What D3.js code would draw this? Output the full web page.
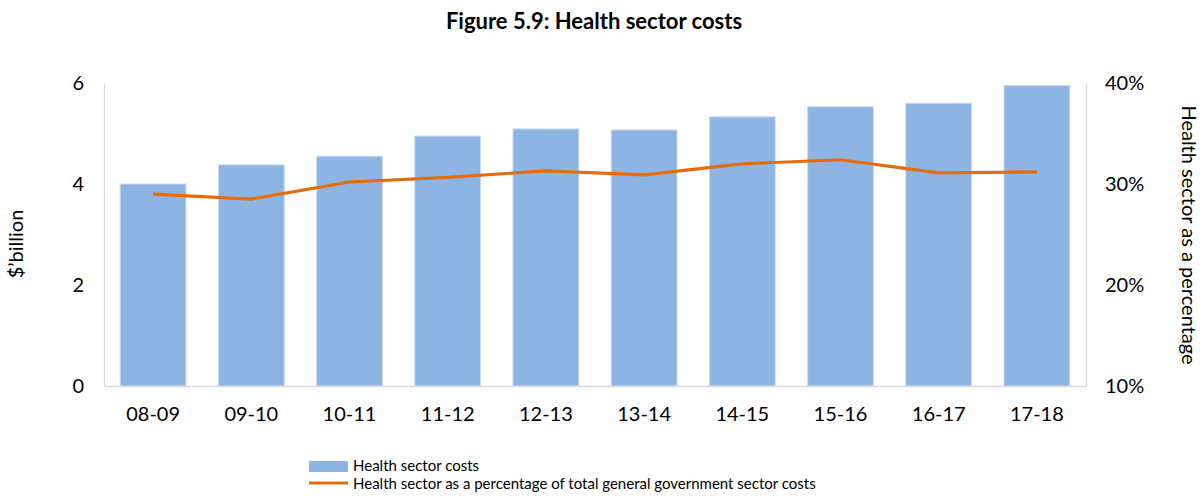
<!DOCTYPE html>
<html>
<head>
<meta charset="utf-8">
<script src="https://cdn.jsdelivr.net/npm/d3@7"></script>
<style>
  html, body { margin: 0; padding: 0; background: #fff; }
  svg { display: block; font-family: Lato, "Open Sans", sans-serif; }
</style>
</head>
<body>
<svg id="chart" width="1204" height="504"></svg>
<script>
// Financial years
const years = ["08-09", "09-10", "10-11", "11-12", "12-13", "13-14", "14-15", "15-16", "16-17", "17-18"];
// Health sector costs, $ billion
const costs = [4.00, 4.38, 4.55, 4.95, 5.09, 5.07, 5.33, 5.53, 5.60, 5.95];
// Health sector as a percentage of total general government sector costs
const shares = [29.0, 28.5, 30.2, 30.65, 31.3, 30.9, 32.0, 32.4, 31.1, 31.2];
// Axis ticks
const leftTicks = [0, 2, 4, 6];
const rightTicks = [10, 20, 30, 40];

const svg = d3.select("#chart");
const m = { left: 104, right: 1086, top: 83, bottom: 386 };

const x = d3.scaleBand().domain(years).range([m.left, m.right]).paddingInner(0.33).paddingOuter(0.165);
const yL = d3.scaleLinear().domain([0, 6]).range([m.bottom, m.top]);
const yR = d3.scaleLinear().domain([10, 40]).range([m.bottom, m.top]);

const barColor = "#8eb4e3";
const lineColor = "#e46c0a";
const axisColor = "#d9d9d9";
const textColor = "#000";
const axisFont = 20;

// Title
svg.append("text")
  .attr("x", 594).attr("y", 29)
  .attr("text-anchor", "middle")
  .attr("font-size", 22).attr("font-weight", "bold")
  .attr("fill", textColor)
  .text("Figure 5.9: Health sector costs");

// Bars
svg.append("g").selectAll("rect")
  .data(years)
  .join("rect")
  .attr("x", d => x(d))
  .attr("width", x.bandwidth())
  .attr("y", (d, i) => yL(costs[i]))
  .attr("height", (d, i) => yL(0) - yL(costs[i]))
  .attr("fill", barColor)
  .attr("stroke", "#c9daf1")
  .attr("stroke-width", 1);

// Axes (lines only, no tick marks)
const leftAxis = d3.axisLeft(yL).tickValues(leftTicks).tickSize(0).tickPadding(20).tickFormat(d3.format("d"));
const rightAxis = d3.axisRight(yR).tickValues(rightTicks).tickSize(0).tickPadding(19).tickFormat(d => d + "%");
const bottomAxis = d3.axisBottom(x).tickSize(0).tickPadding(21);

function styleAxis(g) {
  g.select(".domain").attr("stroke", axisColor).attr("stroke-width", 1.3);
  g.selectAll("text").attr("font-size", axisFont).attr("font-family", "Lato, 'Open Sans', sans-serif").attr("fill", textColor);
}

svg.append("g").attr("transform", `translate(${m.left},0)`).call(leftAxis).call(styleAxis);
svg.append("g").attr("transform", `translate(${m.right},0)`).call(rightAxis).call(styleAxis);
svg.append("g").attr("transform", `translate(0,${m.bottom})`).call(bottomAxis).call(styleAxis);

// Percentage line
const line = d3.line()
  .x((d, i) => x(years[i]) + x.bandwidth() / 2)
  .y(d => yR(d));

svg.append("path")
  .datum(shares)
  .attr("d", line)
  .attr("fill", "none")
  .attr("stroke", lineColor)
  .attr("stroke-width", 3.2)
  .attr("stroke-linejoin", "round");

// Axis titles
svg.append("text")
  .attr("transform", "translate(23,244) rotate(-90)")
  .attr("text-anchor", "middle")
  .attr("font-size", axisFont)
  .attr("fill", textColor)
  .text("$’billion");

svg.append("text")
  .attr("transform", "translate(1182,235) rotate(90)")
  .attr("text-anchor", "middle")
  .attr("font-size", axisFont)
  .attr("fill", textColor)
  .text("Health sector as a percentage");

// Legend
const legend = svg.append("g").attr("transform", "translate(309,0)");
legend.append("rect")
  .attr("x", 0).attr("y", 461).attr("width", 39).attr("height", 11)
  .attr("fill", barColor);
legend.append("text")
  .attr("x", 44).attr("y", 471)
  .attr("font-size", 15).attr("fill", textColor)
  .text("Health sector costs");
legend.append("line")
  .attr("x1", 0).attr("x2", 39).attr("y1", 483).attr("y2", 483)
  .attr("stroke", lineColor).attr("stroke-width", 3);
legend.append("text")
  .attr("x", 44).attr("y", 488.5)
  .attr("font-size", 15).attr("fill", textColor)
  .text("Health sector as a percentage of total general government sector costs");
</script>
</body>
</html>
